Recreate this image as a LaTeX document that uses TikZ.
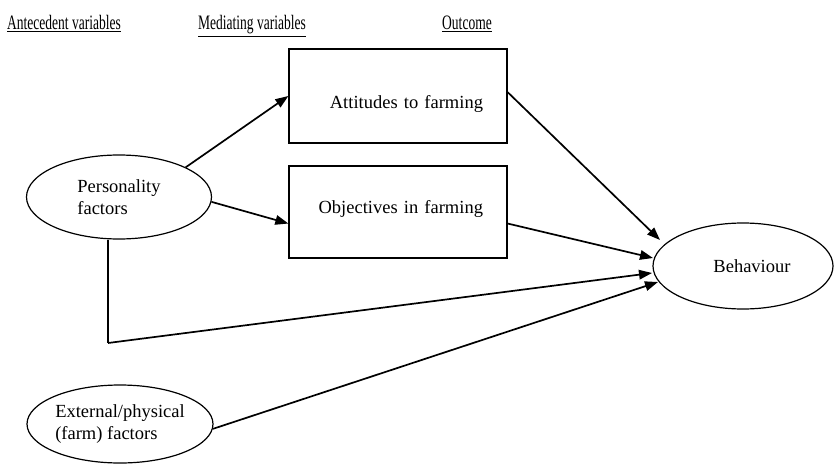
\documentclass[tikz,border=0pt]{standalone}
\usepackage{fontspec}
\setmainfont{Liberation Serif}
\newfontfamily\headfont[FakeStretch=0.66]{Liberation Serif}
\usetikzlibrary{arrows.meta,shapes.geometric}
\begin{document}
\begin{tikzpicture}[x=1pt,y=-1pt,
  body/.style={font=\fontsize{18.5}{22.5}\selectfont},
  head/.style={font=\headfont\fontsize{20.5}{24}\selectfont, anchor=base, inner sep=0pt},
  oval/.style={ellipse, draw, line width=1.2pt, inner sep=0pt, body},
  medbox/.style={rectangle, draw, line width=1.3pt, minimum width=218pt, text width=170pt, align=right, inner xsep=24pt, body},
  link/.style={line width=1.7pt, -{Triangle[length=13pt,width=9.5pt]}},
  plainline/.style={line width=1.7pt}]
\useasboundingbox (0,0) rectangle (834,468);
% headings
\node[head] (h1) at (64,30) {\underline{Antecedent variables}};
\node[head] (h2) at (252,30) {\underline{Mediating variables}};
\node[head] (h3) at (467,30) {\underline{Outcome}};
% nodes
\node[oval, minimum width=185pt, minimum height=84pt, align=left] (pers) at (119,197) {Personality\\factors};
\node[oval, minimum width=186pt, minimum height=78pt, align=left] (ext) at (120,424) {External/physical\\(farm) factors};
\node[oval, minimum width=180pt, minimum height=86pt] (beh) at (743,266) {\hspace*{18pt}Behaviour};
\node[medbox, minimum height=94pt, text height=30pt, text depth=4pt] (b1) at (398,96) {Attitudes to farming};
\node[medbox, minimum height=92pt, text height=13pt, text depth=11pt] (b2) at (398,212) {Objectives in farming};
% free ends
\coordinate (t1) at (660,240);
\coordinate (t2) at (653,258);
\coordinate (t3) at (652,273);
\coordinate (t4) at (658,282);
\coordinate (corner) at (108,343);
% connectors
\draw[link] (pers.24) -- (b1.west);
\draw[link] (pers.-3) -- (b2.186);
\draw[link] (b1.2) -- (t1);
\draw[link] (b2.-6) -- (t2);
\draw[plainline] (pers.south -| corner) -- (corner);
\draw[link] (corner) -- (t3);
\draw[link] (ext.-3) -- (t4);
\end{tikzpicture}
\end{document}
